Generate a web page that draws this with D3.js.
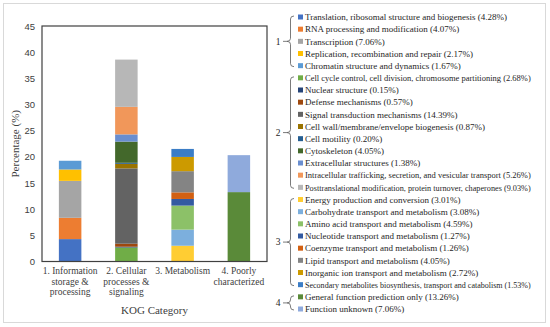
<!DOCTYPE html>
<html>
<head>
<meta charset="utf-8">
<style>
    body { margin: 0; background: #fff; }
    svg { font-family: 'Liberation Serif', 'Times New Roman', serif; }
    .y .tick line { display: none; }
    .y .domain { display: none; }
    .y .tick text { font-size: 9.5px; fill: #404040; }
    .leg text { fill: #262626; }
</style>
</head>
<body>
<svg width="550" height="327"></svg>
<script src="https://d3js.org/d3.v7.min.js"></script>
<script>
// KOG categories (x axis)
let categories = ["1", "2", "3", "4"]
let categoryLabels = [
    ["1. Information", "storage &", "processing"],
    ["2. Cellular", "processes &", "signaling"],
    ["3. Metabolism"],
    ["4. Poorly", "characterized"]
]

// functional classes, in stacking / legend order
let kogNames = [
    "Translation, ribosomal structure and biogenesis",
    "RNA processing and modification",
    "Transcription",
    "Replication, recombination and repair",
    "Chromatin structure and dynamics",
    "Cell cycle control, cell division, chromosome partitioning",
    "Nuclear structure",
    "Defense mechanisms",
    "Signal transduction mechanisms",
    "Cell wall/membrane/envelope biogenesis",
    "Cell motility",
    "Cytoskeleton",
    "Extracellular structures",
    "Intracellular trafficking, secretion, and vesicular transport",
    "Posttranslational modification, protein turnover, chaperones",
    "Energy production and conversion",
    "Carbohydrate transport and metabolism",
    "Amino acid transport and metabolism",
    "Nucleotide transport and metabolism",
    "Coenzyme transport and metabolism",
    "Lipid transport and metabolism",
    "Inorganic ion transport and metabolism",
    "Secondary metabolites biosynthesis, transport and catabolism",
    "General function prediction only",
    "Function unknown"
]
let kogValues = [4.28, 4.07, 7.06, 2.17, 1.67,
    2.68, 0.15, 0.57, 14.39, 0.87, 0.20, 4.05, 1.38, 5.26, 9.03,
    3.01, 3.08, 4.59, 1.27, 1.26, 4.05, 2.72, 1.53,
    13.26, 7.06]
let kogGroup = ["1", "1", "1", "1", "1",
    "2", "2", "2", "2", "2", "2", "2", "2", "2", "2",
    "3", "3", "3", "3", "3", "3", "3", "3",
    "4", "4"]
let kogColors = ["#4472C4", "#ED7D31", "#A5A5A5", "#FFC000", "#5B9BD5",
    "#70AD47", "#264478", "#9E480E", "#636363", "#997300", "#255E91", "#43682B",
    "#698ED0", "#F1975A", "#B7B7B7", "#FFCD33", "#7CAFDD", "#8CC168",
    "#335AA1", "#D26012", "#848484", "#CC9A00", "#3B7DC6", "#5A8A39", "#8FAADC"]
let yTicks = [0, 5, 10, 15, 20, 25, 30, 35, 40, 45]

let svg = d3.select("svg")

// outer frame
svg.append("rect")
    .attr("x", 3.5).attr("y", 3.5)
    .attr("width", 542).attr("height", 319)
    .attr("fill", "none")
    .attr("stroke", "#d9d9d9")

let margin = { top: 26, right: 283, bottom: 65.5, left: 42 }
let width = 550, height = 327

let x = d3.scaleBand()
    .domain(categories)
    .range([margin.left, width - margin.right])
    .paddingInner(0.6)
    .paddingOuter(0.3)

let y = d3.scaleLinear()
    .domain([0, 45])
    .range([height - margin.bottom, margin.top])

// build stacked segments from the arrays
let segments = []
let running = {}
kogNames.forEach(function (name, i) {
    let g = kogGroup[i]
    let y0 = running[g] || 0
    let y1 = y0 + kogValues[i]
    running[g] = y1
    segments.push({ group: g, y0: y0, y1: y1, color: kogColors[i] })
})

svg.append("g")
    .selectAll("rect")
    .data(segments)
    .join("rect")
    .attr("x", d => x(d.group))
    .attr("width", x.bandwidth())
    .attr("y", d => y(d.y1))
    .attr("height", d => y(d.y0) - y(d.y1))
    .attr("fill", d => d.color)

// plot box
svg.append("rect")
    .attr("x", margin.left).attr("y", y(45))
    .attr("width", width - margin.right - margin.left)
    .attr("height", y(0) - y(45))
    .attr("fill", "none")
    .attr("stroke", "#404040")
    .attr("stroke-width", 1.2)

svg.append("g")
    .attr("class", "y axis")
    .attr("transform", `translate(${margin.left},0)`)
    .call(d3.axisLeft(y).tickValues(yTicks).tickSize(0).tickPadding(7))

// category labels
let xl = svg.append("g")
    .selectAll("text")
    .data(categories)
    .join("text")
    .attr("x", d => x(d) + x.bandwidth() / 2)
    .attr("y", 274)
    .attr("text-anchor", "middle")
    .attr("font-size", 9.5)
    .attr("fill", "#404040")
xl.selectAll("tspan")
    .data((d, i) => categoryLabels[i])
    .join("tspan")
    .attr("x", function () { return this.parentNode.getAttribute("x") })
    .attr("dy", (d, i) => i === 0 ? 0 : 10.5)
    .text(d => d)

svg.append("text")
    .attr("x", (margin.left + width - margin.right) / 2)
    .attr("y", 314)
    .attr("text-anchor", "middle")
    .attr("font-size", 11)
    .attr("fill", "#404040")
    .text("KOG Category")

svg.append("text")
    .attr("transform", `translate(19,${(y(0) + y(45)) / 2}) rotate(-90)`)
    .attr("text-anchor", "middle")
    .attr("font-size", 11)
    .attr("fill", "#404040")
    .text("Percentage (%)")

// legend
let ly = d3.scalePoint()
    .domain(d3.range(kogNames.length))
    .range([17, 309])

let leg = svg.append("g").attr("class", "leg")
leg.selectAll("rect")
    .data(kogNames)
    .join("rect")
    .attr("x", 298)
    .attr("y", (d, i) => ly(i) - 2.5)
    .attr("width", 5).attr("height", 5)
    .attr("fill", (d, i) => kogColors[i])
leg.selectAll("text")
    .data(kogNames)
    .join("text")
    .attr("x", 305)
    .attr("y", (d, i) => ly(i) + 3.2)
    .attr("font-size", 9)
    .text((d, i) => d + " (" + kogValues[i].toFixed(2) + "%)")
    .each(function () {
        // the longest entries are set smaller so they fit in the frame
        let w = this.getComputedTextLength()
        if (w > 228) d3.select(this).attr("font-size", 9 * 226 / w)
    })

// braces for the four groups
let groups = ["1", "2", "3", "4"]
let braces = groups.map(function (g) {
    let idx = d3.range(kogNames.length).filter(i => kogGroup[i] === g)
    return { g: g, top: ly(idx[0]) - 1, bottom: ly(idx[idx.length - 1]) + 1 }
})

function bracePath(d) {
    let xr = 294, xv = 290.5, xm = 287
    let mid = (d.top + d.bottom) / 2
    return `M${xr},${d.top} Q${xv},${d.top} ${xv},${d.top + 3}` +
        ` L${xv},${mid - 3} Q${xv},${mid} ${xm},${mid}` +
        ` Q${xv},${mid} ${xv},${mid + 3}` +
        ` L${xv},${d.bottom - 3} Q${xv},${d.bottom} ${xr},${d.bottom}`
}

let br = svg.append("g")
br.selectAll("path.brace")
    .data(braces)
    .join("path")
    .attr("class", "brace")
    .attr("d", bracePath)
    .attr("fill", "none")
    .attr("stroke", "#595959")
    .attr("stroke-width", 0.8)
br.selectAll("line")
    .data(braces)
    .join("line")
    .attr("x1", 283).attr("x2", 287)
    .attr("y1", d => (d.top + d.bottom) / 2)
    .attr("y2", d => (d.top + d.bottom) / 2)
    .attr("stroke", "#595959")
    .attr("stroke-width", 0.8)
br.selectAll("text")
    .data(braces)
    .join("text")
    .attr("x", 278)
    .attr("y", d => (d.top + d.bottom) / 2 + 3.3)
    .attr("text-anchor", "middle")
    .attr("font-size", 9.5)
    .attr("fill", "#262626")
    .text(d => d.g)
</script>
</body>
</html>
